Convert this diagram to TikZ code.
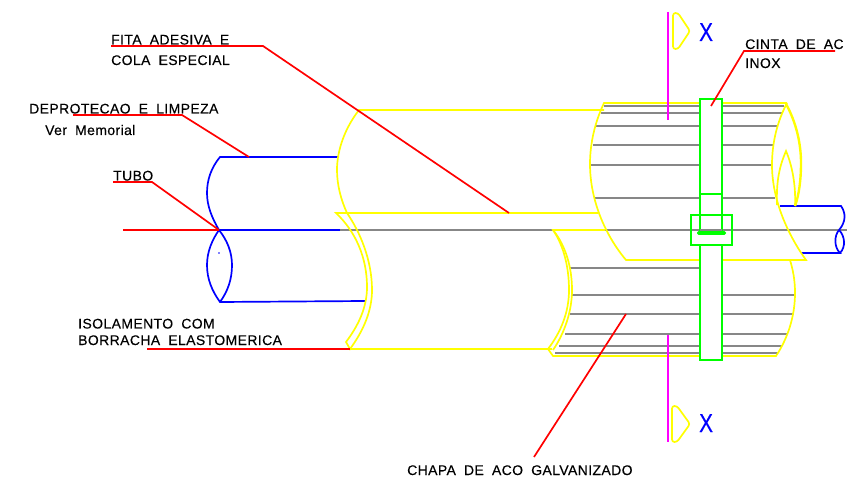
\documentclass[tikz,border=0pt]{standalone}
\usepackage{fontspec}
\setmainfont[WordSpace=1.9,LetterSpace=3,FakeBold=0.25]{Liberation Sans}
\definecolor{cadyellow}{RGB}{255,255,0}
\definecolor{cadgreen}{RGB}{0,255,0}
\definecolor{cadblue}{RGB}{0,0,255}
\definecolor{cadred}{RGB}{255,0,0}
\definecolor{cadmag}{RGB}{255,0,255}
\definecolor{cadgray}{RGB}{135,135,135}
\tikzset{
  yline/.style={draw=cadyellow,line width=1.7pt},
  gline/.style={draw=cadgray,line width=1.7pt},
  bline/.style={draw=cadblue,line width=1.7pt},
  rline/.style={draw=cadred,line width=1.7pt},
  mline/.style={draw=cadmag,line width=1.7pt},
  sline/.style={draw=cadgreen,line width=1.7pt},
  lbl/.style={anchor=base west,inner sep=0pt,font=\fontsize{14}{16}\selectfont},
  xmark/.style={anchor=base west,inner sep=0pt,text=cadblue,xscale=0.8,font=\fontsize{26}{28}\selectfont}
}
\begin{document}
\begin{tikzpicture}[x=1bp,y=1bp,yscale=-1,xscale=1]
\useasboundingbox (0,0) rectangle (847,486);

%Shape: Lines, center
\draw [gline] (340,230) -- (847,230) ;
%Shape: Lines, upper jacket
\draw [gline] (604,106) -- (784,106) ;
\draw [gline] (601,113) -- (783,113) ;
\draw [gline] (596,126) -- (777,126) ;
\draw [gline] (593,145) -- (773,145) ;
\draw [gline] (590,165) -- (772,165) ;
\draw [gline] (595,198) -- (775,198) ;
%Shape: Lines, lower jacket
\draw [gline] (570,268) -- (700,268) ;
\draw [gline] (572,295) -- (795,295) ;
\draw [gline] (570,314) -- (793,314) ;
\draw [gline] (565,334) -- (787,334) ;
\draw [gline] (559,346) -- (782,346) ;
\draw [gline] (555,353) -- (778,353) ;

%Shape: Tube, left
\draw [bline] (338,157) -- (220,157) .. controls (211,168) and (207,180) .. (207,193) .. controls (207,206) and (212,218) .. (219,230) .. controls (212,240) and (207,252) .. (207,265) .. controls (207,279) and (212,291) .. (220,302) -- (365,301) ;
\draw [bline] (219,230) .. controls (227,240) and (232,252) .. (232,265) .. controls (232,279) and (228,291) .. (220,302) ;
\draw [bline] (219,230) -- (340,230) ;
\fill [cadblue] (219,253) circle (0.8) ;
%Shape: Tube, right
\draw [bline] (780,206) -- (841,206) .. controls (846,213) and (846,222) .. (839,230) .. controls (834,236) and (834,247) .. (840,253) -- (801,253) ;
\draw [bline] (839,230) .. controls (845,236) and (846,247) .. (840,253) ;

%Shape: Insulation, upper
\draw [yline] (604,110) -- (359,110) .. controls (345,128) and (337,150) .. (337,170) .. controls (337,185) and (341,200) .. (347,213) ;
\draw [yline] (598,213) -- (336,213) .. controls (356,232) and (367,258) .. (367,287) .. controls (367,308) and (358,326) .. (346,342) -- (350,349) .. controls (364,330) and (372,310) .. (372,290) .. controls (372,260) and (360,232) .. (347,213) ;
\draw [yline] (350,349) -- (552,349) ;
%Shape: Insulation, lower
\draw [yline] (605,230) -- (553,230) .. controls (564,246) and (569,268) .. (569,290) .. controls (569,312) and (561,332) .. (548,349) -- (553,356) -- (776,356) .. controls (788,338) and (795,316) .. (795,293) .. controls (795,280) and (793,270) .. (790,260) ;
\draw [yline] (553,230) .. controls (566,246) and (572,268) .. (572,290) .. controls (572,312) and (564,334) .. (553,350) ;
%Shape: Jacket, upper
\draw [yline] (787,103) -- (604,103) .. controls (595,122) and (590,143) .. (590,164) .. controls (590,200) and (605,235) .. (626,260) -- (806,260) .. controls (788,235) and (772,200) .. (772,165) .. controls (772,143) and (777,122) .. (787,103) ;
\draw [yline,line width=2.4pt] (786,104) .. controls (796,122) and (801,143) .. (801,163) .. controls (801,180) and (799,195) .. (795,206) ;
\draw [yline] (777,205) .. controls (776,180) and (780,165) .. (786,151) .. controls (792,165) and (796,185) .. (795,206) ;

%Shape: Strap
\draw [sline,fill=white] (700,232) -- (700,99) -- (722,99) -- (722,232) ;
\draw [sline,fill=white] (700,245) -- (700,360) -- (722,360) -- (722,245) ;
\draw [sline] (700,194) -- (722,194) ;
\draw [gline] (700,230) -- (722,230) ;
%Shape: Buckle
\draw [sline] (691,215) rectangle (732,245) ;
\draw [sline,line width=2pt,rounded corners=1pt] (698,232) rectangle (725,234) ;

%Shape: Section marks
\draw [mline] (668,12) -- (668,120) ;
\draw [mline] (668,335) -- (668,442) ;
\draw [yline,rounded corners=2.5pt] (673,13) -- (678,13) -- (690,31) -- (678,49) -- (673,49) -- cycle ;
\draw [yline,rounded corners=2.5pt] (672,406) -- (677,406) -- (690,424) -- (677,442) -- (672,442) -- cycle ;

%Shape: Leaders
\draw [rline] (111,46) -- (263,46) -- (509,213) ;
\draw [rline] (73,115) -- (182,115) -- (249,157) ;
\draw [rline] (113,182) -- (152,182) -- (219,230) ;
\draw [rline] (123,230) -- (219,230) ;
\draw [rline] (147,349) -- (350,349) ;
\draw [rline] (835,51) -- (744,51) -- (711,106) ;
\draw [rline] (534,457) -- (626,314) ;

% Text Node
\draw (111,44.5) node (lblfita) [lbl] {FITA ADESIVA E};
% Text Node
\draw (111,65) node (lblcola) [lbl] {COLA ESPECIAL};
% Text Node
\draw (29,113.5) node (lbldepro) [lbl] {DEPROTECAO E LIMPEZA};
% Text Node
\draw (45,135) node (lblver) [lbl] {Ver Memorial};
% Text Node
\draw (113,180.5) node (lbltubo) [lbl] {TUBO};
% Text Node
\draw (78,328.5) node (lbliso) [lbl] {ISOLAMENTO COM};
% Text Node
\draw (78,345) node (lblborr) [lbl] {BORRACHA ELASTOMERICA};
% Text Node
\draw (407,475) node (lblchapa) [lbl] {CHAPA DE ACO GALVANIZADO};
% Text Node
\draw (745,49) node (lblcinta) [lbl] {CINTA DE AC};
% Text Node
\draw (745,68) node (lblinox) [lbl] {INOX};
% Text Node
\draw (699,41) node (lblxa) [xmark] {X};
% Text Node
\draw (699,432) node (lblxb) [xmark] {X};

\end{tikzpicture}
\end{document}
